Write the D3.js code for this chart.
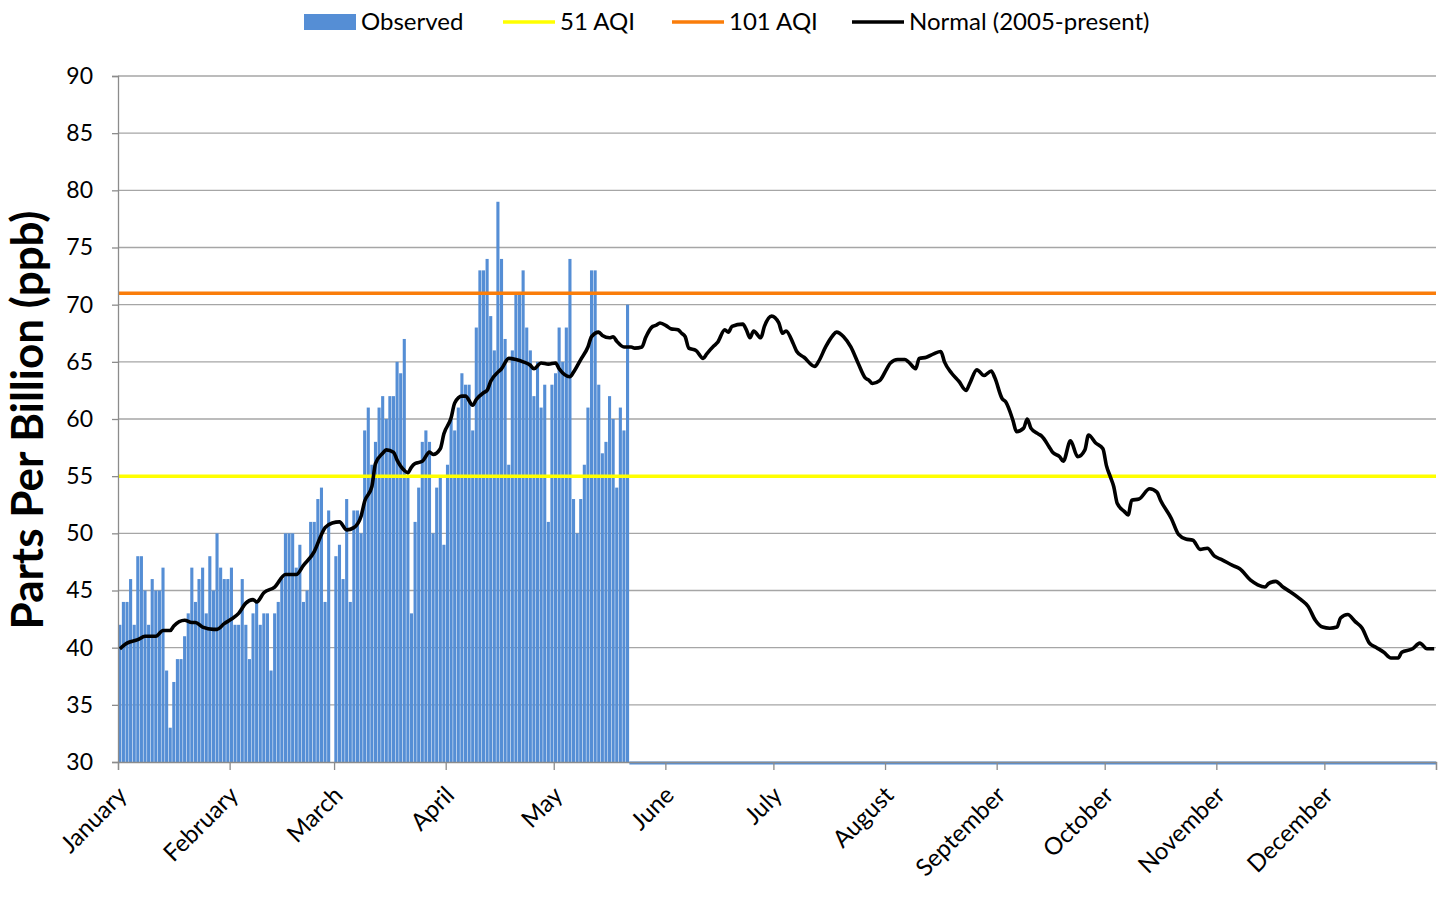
<!DOCTYPE html>
<html>
<head>
<meta charset="utf-8">
<script src="https://cdn.jsdelivr.net/npm/d3@7"></script>
<style>
  body { margin: 0; background: #fff; }
  text { font-family: Lato, "Open Sans", "Liberation Sans", sans-serif; fill: #000; }
</style>
</head>
<body>
<svg id="chart" width="1444" height="898"></svg>
<script>
// ---- Data ----
const yearStart = "2024-01-01";
const yearEnd = "2025-01-01";

// Daily observed ozone (ppb) from Jan 1; null = no reading
const observedJan = [42,44,44,46,42,48,48,45,42,46,45,45,47,38,33,37,39,39,41,43,47,44,46,47,43,48,45,50,47,46,46];
const observedFeb = [47,42,42,46,42,39,43,44,42,43,43,38,43,44,46,50,50,50,47,49,44,45,51,51,53,54,44,52,null];
const observedMar = [48,49,46,53,44,52,52,50,59,61,56,58,61,62,60,62,62,65,64,67,55,43,51,54,58,59,58,50,54,55,49];
const observedApr = [56,60,59,61,64,63,63,59,68,73,73,74,69,66,79,74,67,56,66,71,71,73,68,66,62,65,61,63,51,63];
const observedMay = [64,68,65,68,74,53,50,53,56,61,73,73,63,57,58,62,60,54,61,59,70];

// Normal (2005-present), day of year and ppb
const normalDay = [1,3,6,8,11,13,15,16,19,21,22,24,27,28,30,32,34,36,38,39,41,44,47,50,52,55,57,58,60,62,64,66,68,69,71,72,74,75,77,78,80,81,82,83,85,87,88,90,91,93,94,96,97,99,100,102,103,104,106,107,109,111,113,115,116,118,120,122,123,126,127,129,131,132,134,135,137,138,139,141,143,144,146,147,149,150,151,153,154,156,157,158,159,161,163,164,166,167,169,170,171,174,175,176,177,179,180,182,184,185,186,188,189,191,194,195,197,199,200,202,204,206,208,209,210,212,214,215,217,219,220,222,223,225,227,229,230,232,234,236,237,239,241,243,244,246,247,249,250,252,253,254,256,257,259,260,262,263,265,267,269,270,272,274,275,276,277,278,280,281,282,284,287,289,290,293,295,297,299,301,303,305,307,310,312,315,317,319,320,322,324,326,329,331,333,335,337,339,340,342,344,346,348,350,352,354,356,357,360,362,364,366];
const normalPpb = [39.9,40.4,40.7,41.0,41.0,41.5,41.5,41.9,42.4,42.2,42.2,41.8,41.6,41.6,42.1,42.5,43.0,43.9,44.2,44.0,44.8,45.3,46.4,46.4,47.2,48.4,49.9,50.5,50.9,51.0,50.3,50.5,51.5,52.8,54.1,56.1,57.0,57.3,57.1,56.4,55.5,55.3,55.8,56.1,56.3,57.1,56.9,57.4,58.7,60.1,61.4,62.0,62.0,61.2,61.7,62.3,62.5,63.3,64.1,64.4,65.3,65.2,65.0,64.7,64.4,64.9,64.8,64.9,64.4,63.7,64.1,65.2,66.3,67.2,67.6,67.3,67.1,67.2,66.8,66.3,66.3,66.2,66.3,67.1,68.1,68.2,68.4,68.1,67.9,67.8,67.5,67.2,66.2,66.0,65.3,65.7,66.4,66.7,67.8,67.6,68.1,68.3,67.8,67.1,67.7,67.1,68.1,69.0,68.4,67.5,67.7,66.6,65.9,65.4,64.6,65.0,66.3,67.3,67.6,67.2,66.3,64.9,63.6,63.4,63.1,63.35,64.4,64.9,65.2,65.2,65.0,64.4,65.3,65.4,65.7,65.9,65.0,64.0,63.3,62.5,63.1,64.3,63.8,64.2,63.6,61.8,61.5,59.9,58.9,59.2,60.0,59.2,58.7,58.5,57.6,57.1,56.7,56.3,58.1,56.7,57.3,58.6,57.9,57.4,55.9,55.0,54.1,52.6,51.9,51.6,52.9,53.0,53.9,53.6,52.9,51.3,49.9,49.5,49.4,48.6,48.7,48.0,47.7,47.2,46.9,45.9,45.5,45.3,45.6,45.8,45.3,44.9,44.2,43.6,42.4,41.8,41.7,41.8,42.6,42.9,42.3,41.7,40.4,40.0,39.6,39.1,39.1,39.6,39.9,40.4,39.9,39.9];

// AQI thresholds (ppb)
const aqi51Ppb = 55;
const aqi101Ppb = 71;

const yTickValues = [30,35,40,45,50,55,60,65,70,75,80,85,90];
const monthLabels = ["January","February","March","April","May","June","July","August","September","October","November","December"];
const legendLabels = ["Observed","51 AQI","101 AQI","Normal (2005-present)"];
const yTitle = "Parts Per Billion (ppb)";

// ---- Layout ----
const plot = { left: 118, right: 1436, top: 76, bottom: 762 };
const colors = { bar: "#558ed5", aqi51: "#ffff00", aqi101: "#fa7d0a", normal: "#000", grid: "#a6a6a6", axis: "#8c8c8c" };

const svg = d3.select("#chart");
const parse = d3.utcParse("%Y-%m-%d");
const t0 = parse(yearStart), t1 = parse(yearEnd);

const x = d3.scaleUtc().domain([t0, t1]).range([plot.left, plot.right]);
const y = d3.scaleLinear().domain([30, 90]).range([plot.bottom, plot.top]);

const observed = [].concat(observedJan, observedFeb, observedMar, observedApr, observedMay)
  .map((v, i) => ({ date: d3.utcDay.offset(t0, i), value: v }));
const lastObserved = d3.utcDay.offset(t0, observed.length);

const normal = normalDay.map((d, i) => ({ date: new Date(+d3.utcDay.offset(t0, d - 1) + 12 * 3600e3), value: normalPpb[i] }));

// Gridlines
svg.append("g").selectAll("line").data(yTickValues.filter(v => v > 30)).join("line")
  .attr("x1", plot.left).attr("x2", plot.right)
  .attr("y1", d => y(d)).attr("y2", d => y(d))
  .attr("stroke", colors.grid).attr("stroke-width", 1.3);

// Observed bars
svg.append("g").selectAll("rect").data(observed.filter(d => d.value != null)).join("rect")
  .attr("x", d => x(d.date) + 0.25)
  .attr("width", d => x(d3.utcDay.offset(d.date, 1)) - x(d.date) - 0.5)
  .attr("y", d => y(d.value))
  .attr("height", d => y(30) - y(d.value))
  .attr("fill", colors.bar);

// Days after the last reading sit on the axis floor
svg.append("rect")
  .attr("x", x(lastObserved)).attr("width", x(t1) - x(lastObserved))
  .attr("y", y(30) - 0.5).attr("height", 3)
  .attr("fill", colors.bar);

// AQI threshold lines
svg.append("line").attr("x1", plot.left).attr("x2", plot.right)
  .attr("y1", y(aqi51Ppb)).attr("y2", y(aqi51Ppb))
  .attr("stroke", colors.aqi51).attr("stroke-width", 3.5);
svg.append("line").attr("x1", plot.left).attr("x2", plot.right)
  .attr("y1", y(aqi101Ppb)).attr("y2", y(aqi101Ppb))
  .attr("stroke", colors.aqi101).attr("stroke-width", 3.5);

// Normal line
svg.append("path").datum(normal)
  .attr("d", d3.line().x(d => x(d.date)).y(d => y(d.value)).curve(d3.curveMonotoneX))
  .attr("fill", "none").attr("stroke", colors.normal).attr("stroke-width", 3.6)
  .attr("stroke-linejoin", "round");

// Y axis
const yAxis = svg.append("g").attr("transform", `translate(${plot.left},0)`)
  .call(d3.axisLeft(y).tickValues(yTickValues).tickSize(6).tickPadding(19).tickFormat(d3.format("d")));
yAxis.select(".domain").attr("stroke", colors.axis).attr("stroke-width", 1.3);
yAxis.selectAll(".tick line").attr("stroke", colors.axis).attr("stroke-width", 1.3);
yAxis.selectAll(".tick text").style("font-size", "23px").attr("fill", "#000");

// X axis
const monthStarts = d3.utcMonth.range(t0, d3.utcDay.offset(t1, 1));
const xAxis = svg.append("g").attr("transform", `translate(0,${plot.bottom})`)
  .call(d3.axisBottom(x).tickValues(monthStarts).tickSize(8)
    .tickFormat((d, i) => i < monthLabels.length ? monthLabels[i] : ""));
xAxis.select(".domain").attr("stroke", colors.axis).attr("stroke-width", 1.3);
xAxis.selectAll(".tick line").attr("stroke", colors.axis).attr("stroke-width", 1.3);
xAxis.selectAll(".tick text")
  .style("font-size", "24px").attr("fill", "#000")
  .attr("text-anchor", "end")
  .attr("transform", "translate(-10,15) rotate(-45)")
  .attr("dy", "0.7em");

// Y axis title
svg.append("text")
  .attr("transform", `translate(43,${(plot.top + plot.bottom) / 2 + 1}) rotate(-90)`)
  .attr("text-anchor", "middle")
  .style("font-size", "44px").style("font-weight", "bold")
  .text(yTitle);

// Legend
const legend = svg.append("g").style("font-size", "24px");
const lg = [
  { x: 304, kind: "rect", color: colors.bar },
  { x: 503, kind: "line", color: colors.aqi51 },
  { x: 672, kind: "line", color: colors.aqi101 },
  { x: 852, kind: "line", color: colors.normal }
];
lg.forEach((d, i) => {
  if (d.kind === "rect") {
    legend.append("rect").attr("x", d.x).attr("y", 14).attr("width", 52).attr("height", 16).attr("fill", d.color);
  } else {
    legend.append("line").attr("x1", d.x).attr("x2", d.x + 52).attr("y1", 22).attr("y2", 22)
      .attr("stroke", d.color).attr("stroke-width", 3.5);
  }
  legend.append("text").attr("x", d.x + 57).attr("y", 22).attr("dy", "0.35em").text(legendLabels[i]);
});
</script>
</body>
</html>
